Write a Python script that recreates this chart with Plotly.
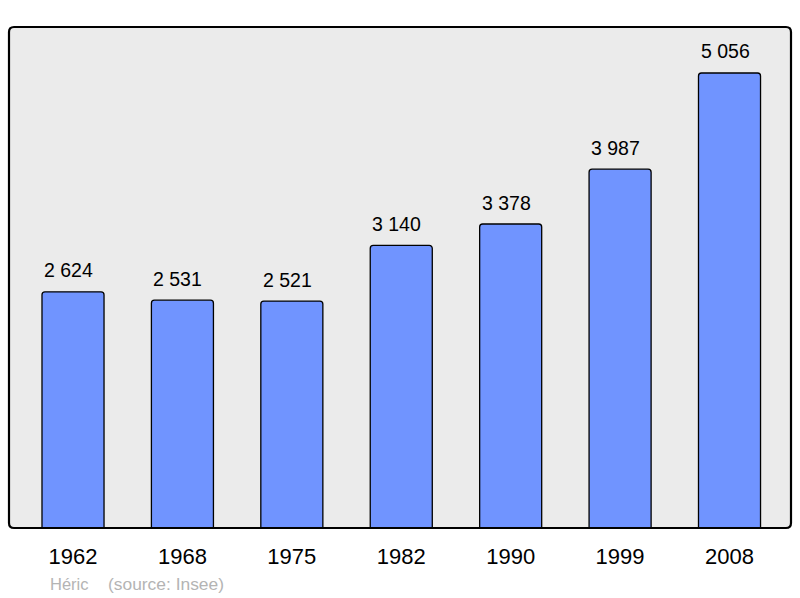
import plotly.graph_objects as go

years = ["1962", "1968", "1975", "1982", "1990", "1999", "2008"]
population = [2624, 2531, 2521, 3140, 3378, 3987, 5056]
value_labels = ["2 624", "2 531", "2 521", "3 140", "3 378", "3 987", "5 056"]
footer_place = "Héric"
footer_source = "(source: Insee)"

xpos = list(range(len(years)))

FW, FH = 800, 598
PL, PT, PW, PH = 9, 27, 782, 501

fig = go.Figure()
fig.add_trace(go.Bar(
    x=xpos, y=population, width=0.567,
    marker=dict(color="#7094ff", line=dict(color="black", width=1.3), cornerradius=3),
    hoverinfo="skip",
))

for i, (v, lab) in enumerate(zip(population, value_labels)):
    fig.add_annotation(x=i, y=v, text=lab, showarrow=False, yanchor="bottom",
                       yshift=8.5, xshift=-4.5, font=dict(size=19.5, color="black"))

fy = -(584 - (PT + PH)) / PH
fig.add_annotation(xref="paper", yref="paper", x=(48 - PL) / PW, y=fy,
                   xanchor="left", yanchor="middle", showarrow=False,
                   text=footer_place, font=dict(size=16.5, color="#b4b4b4"))
fig.add_annotation(xref="paper", yref="paper", x=(105.5 - PL) / PW, y=fy,
                   xanchor="left", yanchor="middle", showarrow=False,
                   text=footer_source, font=dict(size=17.4, color="#b4b4b4"))

# rounded frame
r = 5.0
rx, ry = r / PW, r / PH
path = (f"M {rx},0 L {1-rx},0 Q 1,0 1,{ry} L 1,{1-ry} Q 1,1 {1-rx},1 "
        f"L {rx},1 Q 0,1 0,{1-ry} L 0,{ry} Q 0,0 {rx},0 Z")
fig.add_shape(type="path", xref="paper", yref="paper", path=path,
              line=dict(color="black", width=2.2), layer="above")

fig.update_layout(
    width=FW, height=FH,
    margin=dict(l=PL, r=FW - PL - PW, t=PT, b=FH - PT - PH, pad=0),
    paper_bgcolor="white", plot_bgcolor="#ebebeb",
    font=dict(family="Liberation Sans, Arial, sans-serif", color="black"),
    showlegend=False,
    xaxis=dict(range=[-0.585, 6.562], tickmode="array", tickvals=xpos, ticktext=years,
               showgrid=False, zeroline=False, ticks="outside", ticklen=9,
               tickcolor="rgba(0,0,0,0)", tickfont=dict(size=22)),
    yaxis=dict(range=[0, 5567], showgrid=False, zeroline=False, showticklabels=False),
)

fig.write_html("out.html", config={"displayModeBar": False},
               post_script="document.body.style.margin='0';document.body.style.overflow='hidden';")
